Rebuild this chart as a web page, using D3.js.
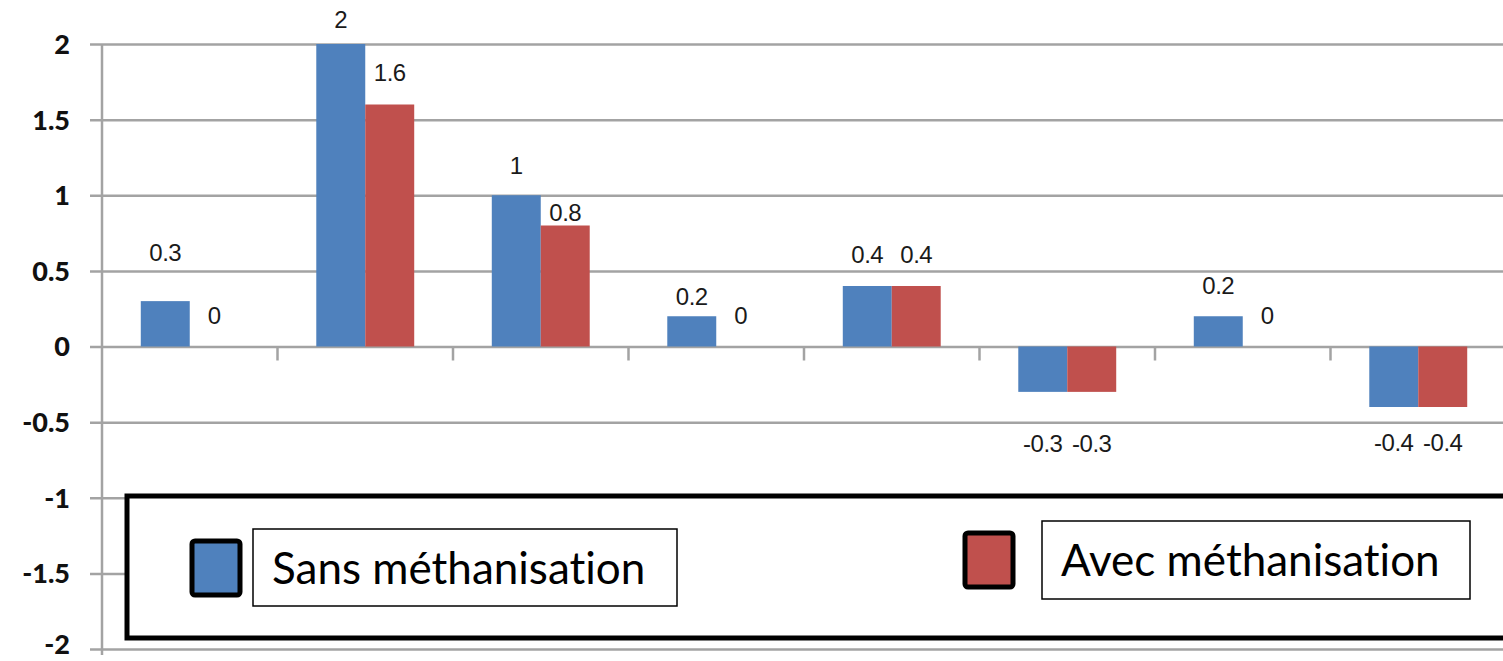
<!DOCTYPE html>
<html>
<head>
<meta charset="utf-8">
<script src="https://cdn.jsdelivr.net/npm/d3@7"></script>
<style>
  html, body { margin: 0; padding: 0; background: #fff; overflow: hidden; }
  svg { display: block; }
</style>
</head>
<body>
<svg id="chart" width="1503" height="661"></svg>
<script>
// ---- data ----
const categories = ["1", "2", "3", "4", "5", "6", "7", "8"];
const seriesNames = ["Sans méthanisation", "Avec méthanisation"];
const sansValues = [0.3, 2, 1, 0.2, 0.4, -0.3, 0.2, -0.4];
const avecValues = [0, 1.6, 0.8, 0, 0.4, -0.3, 0, -0.4];
const yTickValues = [2, 1.5, 1, 0.5, 0, -0.5, -1, -1.5, -2];
const yTickLabels = ["2", "1.5", "1", "0.5", "0", "-0.5", "-1", "-1.5", "-2"];

// ---- layout / style ----
const colors = ["#4F81BD", "#C0504D"];
const gridColor = "#a3a3a3";
const plot = { left: 102, right: 1506, top: 44, bottom: 649 };
// manual nudges of data labels (px, + = down), as in the source picture
const labelNudge = [
  [-18, 7, 1, 11, 0, 16, 0, 0],
  [0, -1, 18, 0, 0, 16, 0, 0]
];

const svg = d3.select("#chart");

const x = d3.scaleBand().domain(categories).range([plot.left, plot.right]).padding(0);
const bw = x.bandwidth();
const xs = d3.scaleBand().domain(seriesNames).range([bw * 0.221, bw * 0.779]).padding(0);
const y = d3.scaleLinear().domain([-2, 2]).range([plot.bottom, plot.top]);

// gridlines + y axis ticks
const yAxis = d3.axisLeft(y)
  .tickValues(yTickValues)
  .tickSize(-(1503 - plot.left + 10))
  .tickFormat((d, i) => yTickLabels[i]);

const gy = svg.append("g")
  .attr("transform", `translate(${plot.left},0)`)
  .call(yAxis);
gy.select(".domain").remove();
gy.selectAll(".tick line")
  .attr("x1", -12)
  .attr("stroke", gridColor)
  .attr("stroke-width", 2.5);
gy.selectAll(".tick text")
  .attr("x", -32)
  .attr("dy", d => d === -2 ? "0.18em" : "0.35em")
  .attr("fill", "#111")
  .style("font-family", "Lato, 'Open Sans', sans-serif")
  .style("font-weight", "900")
  .style("font-size", "27px");

// y axis line
svg.append("line")
  .attr("x1", plot.left).attr("x2", plot.left)
  .attr("y1", y(2)).attr("y2", y(-2) + 6)
  .attr("stroke", gridColor).attr("stroke-width", 2.5);

// category tick marks on the zero line
svg.append("g").selectAll("line")
  .data(categories.slice(1))
  .join("line")
  .attr("x1", d => x(d)).attr("x2", d => x(d))
  .attr("y1", y(0)).attr("y2", y(0) + 14)
  .attr("stroke", gridColor).attr("stroke-width", 2.5);

// bars
const series = [sansValues, avecValues];
const rows = [];
series.forEach((vals, s) => vals.forEach((v, i) => rows.push({ s, i, v, cat: categories[i], name: seriesNames[s] })));

svg.append("g").selectAll("rect")
  .data(rows)
  .join("rect")
  .attr("x", d => x(d.cat) + xs(d.name))
  .attr("width", xs.bandwidth())
  .attr("y", d => y(Math.max(0, d.v)))
  .attr("height", d => Math.abs(y(d.v) - y(0)))
  .attr("fill", d => colors[d.s]);

// data labels
svg.append("g").selectAll("text")
  .data(rows)
  .join("text")
  .attr("x", d => x(d.cat) + xs(d.name) + xs.bandwidth() / 2)
  .attr("y", d => (d.v < 0 ? y(d.v) + 36 : y(d.v) - 31) + labelNudge[d.s][d.i])
  .attr("dy", "0.35em")
  .attr("text-anchor", "middle")
  .attr("fill", "#1a1a1a")
  .style("font-family", "'Liberation Sans', Arial, sans-serif")
  .style("font-size", "24px")
  .style("letter-spacing", "-0.5px")
  .text(d => String(d.v));

// legend
const lg = svg.append("g");
lg.append("rect")
  .attr("x", 127).attr("y", 496)
  .attr("width", 1503).attr("height", 142)
  .attr("fill", "#fff").attr("stroke", "#000").attr("stroke-width", 5);

const legendItems = [
  { sw: [192, 541, 48, 54], box: [253, 529, 424, 77], tx: 272, ty: 584 },
  { sw: [965, 533, 48, 54], box: [1042, 521, 428, 78], tx: 1061, ty: 576 }
];
legendItems.forEach((it, s) => {
  lg.append("rect")
    .attr("x", it.sw[0]).attr("y", it.sw[1])
    .attr("width", it.sw[2]).attr("height", it.sw[3])
    .attr("rx", 3)
    .attr("fill", colors[s]).attr("stroke", "#000").attr("stroke-width", 5);
  lg.append("rect")
    .attr("x", it.box[0]).attr("y", it.box[1])
    .attr("width", it.box[2]).attr("height", it.box[3])
    .attr("fill", "#fff").attr("stroke", "#000").attr("stroke-width", 1.5);
  lg.append("text")
    .attr("x", it.tx).attr("y", it.ty)
    .attr("fill", "#000")
    .style("font-family", "Lato, 'Open Sans', sans-serif")
    .style("font-size", "44px")
    .style("font-variant-ligatures", "none")
    .text(seriesNames[s]);
});
</script>
</body>
</html>
